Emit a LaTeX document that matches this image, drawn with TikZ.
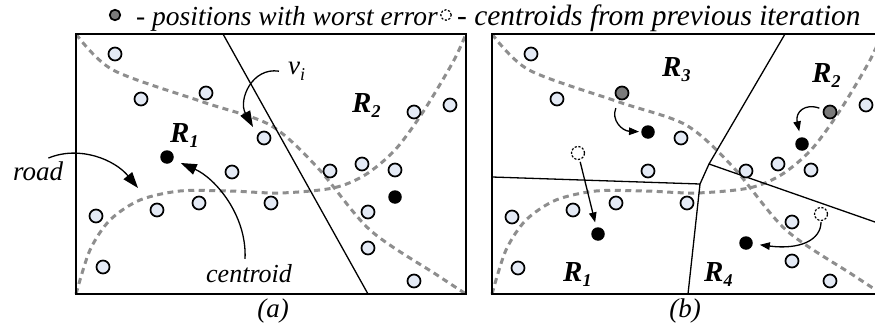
\documentclass[tikz,border=0pt]{standalone}
\usepackage{fontspec}
\setmainfont{Liberation Serif}
\usetikzlibrary{arrows.meta}
\definecolor{ptfill}{HTML}{E4EAF5}
\definecolor{roadgray}{HTML}{8E8E8E}
\definecolor{worstgray}{HTML}{7A7A7A}
\newcommand{\Rlab}[1]{{\fontsize{29}{30}\selectfont\bfseries\itshape R\raisebox{-0.2em}{\fontsize{18}{18}\selectfont #1}}}
\begin{document}
\begin{tikzpicture}[x=1pt,y=-1pt,
  font=\fontsize{27}{30}\selectfont\itshape,
  ptc/.style={circle, draw, line width=1.7pt, fill=ptfill, inner sep=0pt, minimum size=13pt},
  wpt/.style={ptc, fill=worstgray},
  cdot/.style={circle, fill=black, inner sep=0pt, minimum size=13.5pt},
  prevc/.style={circle, draw, dash pattern=on 2.2pt off 1.6pt, line width=1.2pt, inner sep=0pt, minimum size=13pt},
  legsym/.style={minimum size=10.5pt},
  roadline/.style={draw=roadgray, line width=3pt, dash pattern=on 6pt off 4.5pt},
  frameline/.style={line width=1.5pt},
  divline/.style={line width=1.3pt},
  bigarr/.style={-{Triangle[length=16pt,width=11pt]}, line width=1.3pt},
  smallarr/.style={-{Triangle[length=10pt,width=7.5pt]}, line width=1.3pt},
  lbl/.style={inner sep=0pt, anchor=base west}]
\path[use as bounding box, clip] (0,0) rectangle (875,332);

% roads panel (a) and (b)
\foreach \dx in {0,416}{
\begin{scope}[xshift=\dx pt]
\draw[roadline] plot[smooth] coordinates {(76,34) (113,70) (203,102) (270,125) (317,167) (370,230) (437,275) (466,294)};
\draw[roadline] plot[smooth] coordinates {(76,294) (90,250) (110,220) (140,200) (180,191) (230,191) (280,193) (333,188) (365,175) (395,150) (423,112) (453,62) (466,34)};
\end{scope}}

% frames
\draw[frameline] (76,34) rectangle (466,294);
\draw[frameline] (492,34) rectangle (882,294);

% divider (a)
\coordinate (aT) at (223,34);
\coordinate (aB) at (368,294);
\draw[divline] (aT) -- (aB);

% dividers (b)
\coordinate (J1) at (709,164);
\coordinate (J2) at (700,184);
\coordinate (bT) at (785,34);
\coordinate (bR) at (885,225.5);
\coordinate (bL) at (492,177);
\coordinate (bB) at (688,294);
\draw[divline] (bT) -- (J1) -- (bR);
\draw[divline] (J1) -- (J2);
\draw[divline] (bL) -- (J2) -- (bB);

% points panel (a)
\node[ptc] (a1) at (115,54) {};
\node[ptc] (a2) at (141,99) {};
\node[ptc] (a3) at (206,93) {};
\node[ptc] (a4) at (264,138) {};
\node[ptc] (a5) at (414,112) {};
\node[ptc] (a6) at (450,105) {};
\node[ptc] (a7) at (232,172) {};
\node[ptc] (a8) at (330,171) {};
\node[ptc] (a9) at (362,164) {};
\node[ptc] (a10) at (395,170) {};
\node[ptc] (a11) at (96,216) {};
\node[ptc] (a12) at (157,210) {};
\node[ptc] (a13) at (199,203) {};
\node[ptc] (a14) at (271,203) {};
\node[ptc] (a15) at (368,212) {};
\node[ptc] (a16) at (368,248) {};
\node[ptc] (a17) at (103,267) {};
\node[ptc] (a18) at (414,281) {};
\node[cdot] (ac1) at (167,157) {};
\node[cdot] (ac2) at (395,197) {};

% points panel (b)
\node[ptc] (b1) at (531,54) {};
\node[ptc] (b2) at (557,99) {};
\node[ptc] (b4) at (681,138) {};
\node[ptc] (b6) at (866,105) {};
\node[ptc] (b7) at (648,171) {};
\node[ptc] (b8) at (746,171) {};
\node[ptc] (b9) at (778,164) {};
\node[ptc] (b10) at (811,170) {};
\node[ptc] (b11) at (512,217) {};
\node[ptc] (b12) at (573,210) {};
\node[ptc] (b13) at (616,203) {};
\node[ptc] (b14) at (687,203) {};
\node[ptc] (b15) at (792,222) {};
\node[ptc] (b16) at (792,261) {};
\node[ptc] (b17) at (518,268) {};
\node[ptc] (b18) at (830,281) {};
\node[wpt] (bw1) at (622,93) {};
\node[wpt] (bw2) at (830,112) {};
\node[cdot] (bc1) at (648,132) {};
\node[cdot] (bc2) at (802,144) {};
\node[cdot] (bc3) at (598,234) {};
\node[cdot] (bc4) at (746,243) {};
\node[prevc] (bp1) at (578,153) {};
\node[prevc] (bp2) at (821,214) {};

% legend
\node[wpt, legsym] (lg1) at (115,15) {};
\node[lbl, font=\fontsize{27.5}{30}\selectfont\itshape] (lt1) at (136,25) {- positions with worst error};
\node[prevc, legsym] (lg2) at (446,15) {};
\node[lbl, font=\fontsize{29.4}{30}\selectfont\itshape] (lt2) at (457,25) {- centroids from previous iteration};

% labels
\node[lbl] (Ra1) at (170,142) {\Rlab{1}};
\node[lbl] (Ra2) at (352,112) {\Rlab{2}};
\node[lbl] (Rb3) at (662,76) {\Rlab{3}};
\node[lbl] (Rb2) at (812,82) {\Rlab{2}};
\node[lbl] (Rb1) at (563,281) {\Rlab{1}};
\node[lbl] (Rb4) at (704,281) {\Rlab{4}};
\node[lbl] (vi) at (288,74) {v\raisebox{-0.25em}{\fontsize{18}{18}\selectfont i}};
\node[lbl] (road) at (13,180) {road};
\node[lbl, font=\fontsize{26}{30}\selectfont\itshape] (cent) at (206,282) {centroid};
\node[anchor=base, inner sep=0pt] (capa) at (273,317) {(a)};
\node[anchor=base, inner sep=0pt] (capb) at (685,317) {(b)};

% arrows panel (a)
\coordinate (vit) at (253,127);
\coordinate (roadt) at (138,188);
\draw[bigarr] ([xshift=-9pt]vi.west) .. controls (252,67) and (238,100) .. (vit);
\draw[bigarr] ([xshift=-15pt,yshift=3pt]road.north east) .. controls (80,145) and (115,160) .. (roadt);
\draw[bigarr, shorten >=8pt] ([xshift=-4pt,yshift=5pt]cent.north) .. controls (247,215) and (215,178) .. (ac1);

% arrows panel (b)
\draw[smallarr, shorten <=9pt, shorten >=2pt] (bw1) .. controls (611,120) and (622,131) .. (bc1);
\draw[smallarr, shorten <=4pt, shorten >=6pt] (bw2) .. controls (805,103) and (795,112) .. (bc2);
\draw[smallarr, shorten <=2pt, shorten >=5pt] (bp1) -- (bc3);
\draw[smallarr, shorten <=1pt, shorten >=7pt] (bp2) .. controls (821,240) and (800,250) .. (bc4);
\end{tikzpicture}
\end{document}
